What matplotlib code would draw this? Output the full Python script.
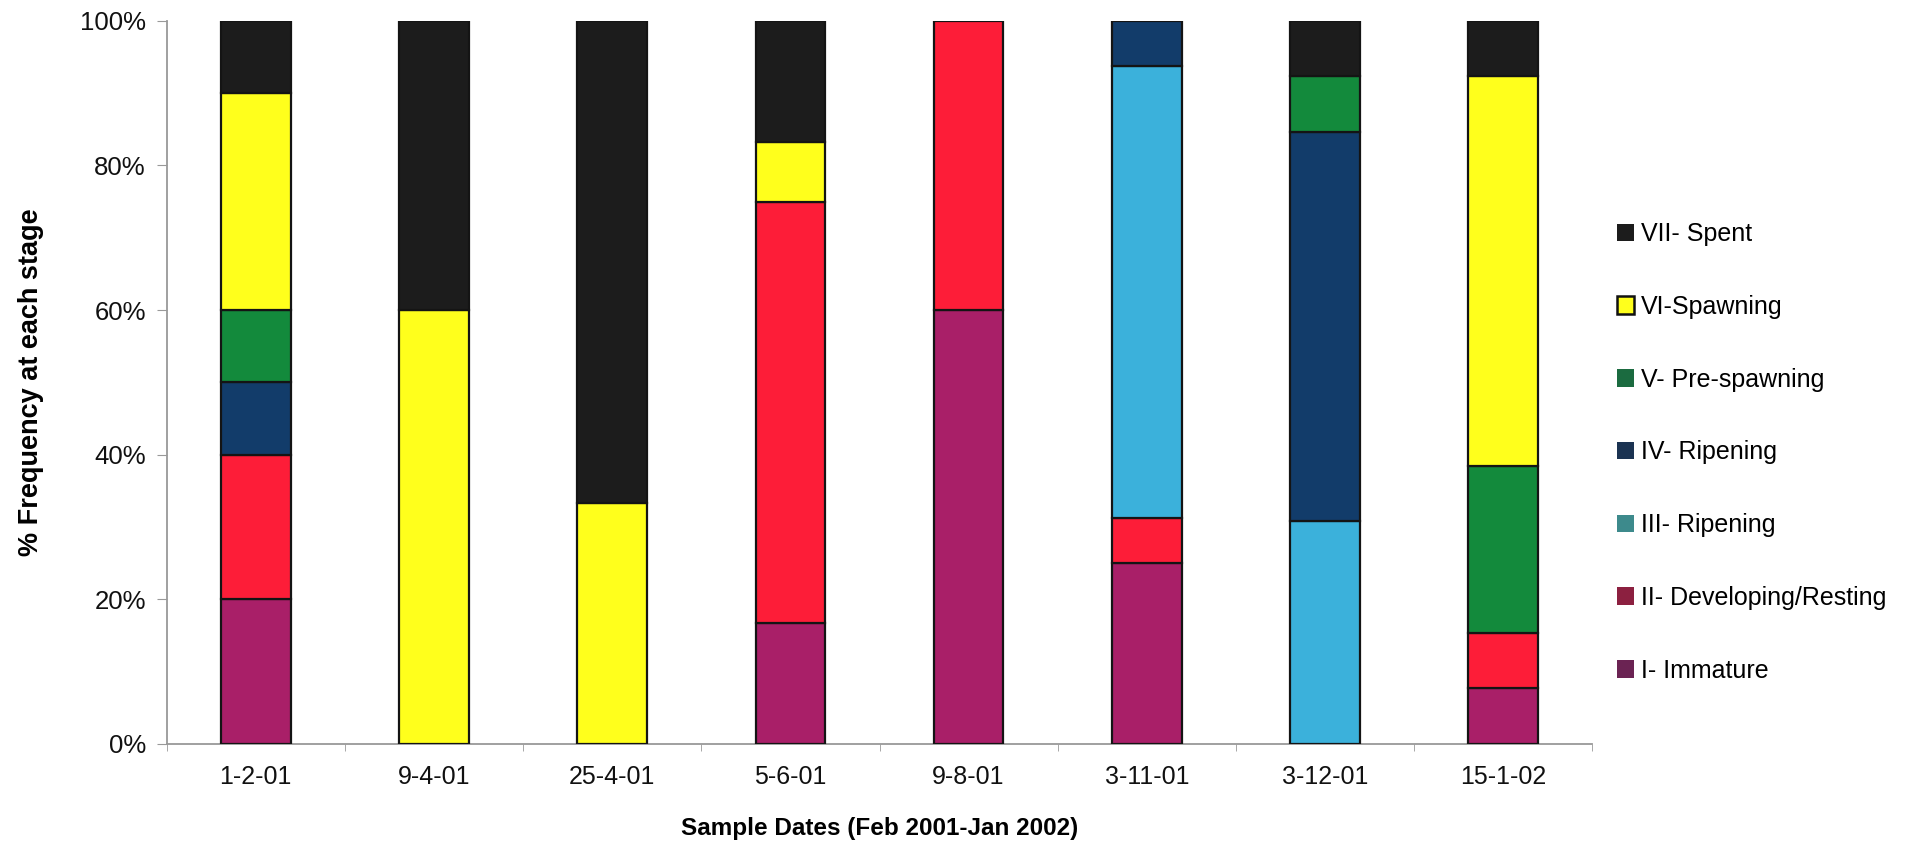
import numpy as np
import matplotlib
matplotlib.use("Agg")
import matplotlib.pyplot as plt
from matplotlib.patches import Patch
from matplotlib.ticker import FuncFormatter, FixedLocator

plt.rcParams['font.family'] = ['Liberation Sans', 'DejaVu Sans']

dates = ["1-2-01", "9-4-01", "25-4-01", "5-6-01", "9-8-01", "3-11-01", "3-12-01", "15-1-02"]

# Percentage of fish at each maturity stage per sample date
stage_I = [20, 0, 0, 16.7, 60, 25, 0, 7.7]
stage_II = [20, 0, 0, 58.3, 40, 6.25, 0, 7.7]
stage_III = [0, 0, 0, 0, 0, 62.5, 30.8, 0]
stage_IV = [10, 0, 0, 0, 0, 6.25, 53.8, 0]
stage_V = [10, 0, 0, 0, 0, 0, 7.7, 23.1]
stage_VI = [30, 60, 33.3, 8.3, 0, 0, 0, 53.8]
stage_VII = [10, 40, 66.7, 16.7, 0, 0, 7.7, 7.7]

stage_labels = ["I- Immature", "II- Developing/Resting", "III- Ripening", "IV- Ripening",
                "V- Pre-spawning", "VI-Spawning", "VII- Spent"]

series = [stage_I, stage_II, stage_III, stage_IV, stage_V, stage_VI, stage_VII]
bar_colors = ["#a91f68", "#fd1d38", "#3bb1db", "#123c6a", "#138a3c", "#ffff1c", "#1c1c1c"]
legend_colors = ["#6b2353", "#8c2040", "#3d8a8c", "#1b3352", "#1b6b40", "#ffff1c", "#1c1c1c"]

fig = plt.figure(figsize=(19.07, 8.42), dpi=100)
ax = fig.add_axes([0.0874, 0.1164, 0.7476, 0.8590])

x = np.arange(len(dates))
bottom = np.zeros(len(dates))
for vals, col in zip(series, bar_colors):
    v = np.asarray(vals, dtype=float)
    mask = v > 0
    ax.bar(x[mask], v[mask], width=0.39, bottom=bottom[mask], color=col,
           edgecolor="#141414", linewidth=1.6, zorder=3)
    bottom += v

ax.set_xlim(-0.5, len(dates) - 0.5)
ax.set_ylim(0, 100)
ax.set_yticks(np.arange(0, 101, 20))
ax.yaxis.set_major_formatter(FuncFormatter(lambda v, p: f"{int(v)}%"))
ax.set_xticks(x)
ax.set_xticklabels(dates)
ax.xaxis.set_minor_locator(FixedLocator(np.arange(-0.5, len(dates), 1.0)))
ax.tick_params(axis='x', which='major', length=0, pad=15, labelsize=18, colors="#111111")
ax.tick_params(axis='x', which='minor', length=5, color="#999999", direction='out')
ax.tick_params(axis='y', which='major', length=7, color="#999999", labelsize=18.5,
               labelcolor="#111111", pad=8)

for s in ("top", "right"):
    ax.spines[s].set_visible(False)
for s in ("left", "bottom"):
    ax.spines[s].set_color("#999999")
    ax.spines[s].set_linewidth(1.3)

ax.set_xlabel("Sample Dates (Feb 2001-Jan 2002)", fontsize=17.5, fontweight='bold', labelpad=20)
ax.set_ylabel("% Frequency at each stage", fontsize=19.5, fontweight='bold', labelpad=26)

handles = []
for lab, col in zip(stage_labels, legend_colors):
    ec = "#111111" if col == "#ffff1c" else col
    lw = 1.8 if col == "#ffff1c" else 0
    handles.append(Patch(facecolor=col, edgecolor=ec, linewidth=lw, label=lab))
handles = handles[::-1]

fig.legend(handles=handles, loc='center left', bbox_to_anchor=(0.836, 0.4627),
           frameon=False, fontsize=18, handlelength=0.7, handleheight=0.7,
           handletextpad=0.25, labelspacing=1.95)

fig.savefig("out.png", dpi=100, facecolor="white")
